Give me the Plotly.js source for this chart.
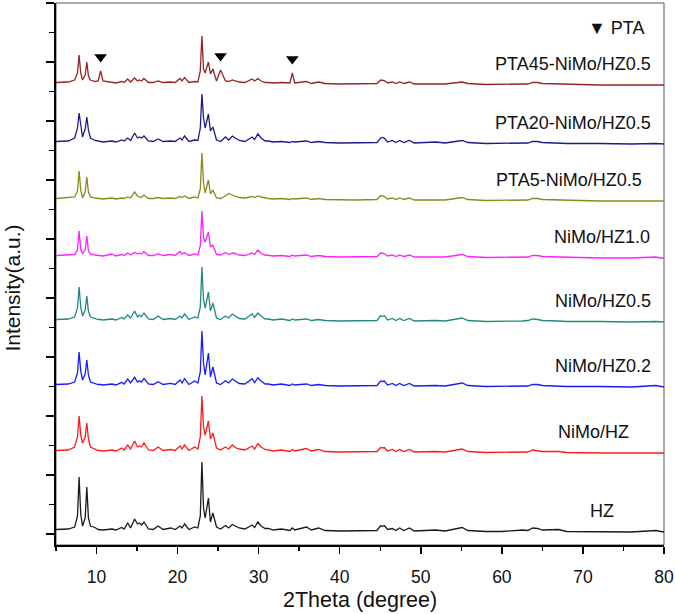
<!DOCTYPE html>
<html>
<head>
<meta charset="utf-8">
<script src="https://cdn.plot.ly/plotly-3.0.1.min.js"></script>
<style>html,body{margin:0;padding:0;background:#fff;}#chart{width:675px;height:614px;}</style>
</head>
<body>
<div id="chart"></div>
<script>
// 2Theta positions (degree) of read points, shared by all patterns
const twoTheta = [
  5, 6.5, 7.3, 7.65, 7.85, 8.05, 8.27, 8.6, 8.8, 9.0,
  9.25, 9.8, 10.2, 10.5, 10.8, 11.9, 12.4, 13.1, 13.4, 13.85,
  14.2, 14.7, 15.05, 15.3, 15.55, 15.85, 16.4, 17.0, 17.6, 18.2,
  19.15, 19.7, 20.3, 20.55, 20.85, 21.4, 22.1, 22.5, 22.8, 23.0,
  23.2, 23.4, 23.8, 24.05, 24.35, 24.8, 25.3, 25.9, 26.3, 26.75,
  27.1, 27.6, 28.3, 29.2, 29.5, 29.9, 30.3, 30.8, 31.2, 31.8,
  32.8, 33.85, 34.15, 34.45, 35.9, 36.5, 37.4, 38.2, 40, 42,
  44.6, 45.05, 45.25, 45.5, 45.9, 46.5, 46.9, 47.4, 47.9, 48.6,
  49.2, 51.8, 53, 55.1, 55.8, 58, 60, 62.5, 63.2, 63.8,
  64.4, 65, 67, 68, 72, 76, 79, 79.5, 80
];

const sampleNames = ["HZ", "NiMo/HZ", "NiMo/HZ0.2", "NiMo/HZ0.5", "NiMo/HZ1.0",
  "PTA5-NiMo/HZ0.5", "PTA20-NiMo/HZ0.5", "PTA45-NiMo/HZ0.5"];

// intensity (a.u.) of each pattern above its own baseline
const intHZ = [
  0.5, 1, 3, 14, 53, 16, 4, 12, 43, 12,
  4, 2.5, 0.5, 0.5, 0, 1, 0, 2.5, 1, 7,
  2, 11, 6, 7, 5, 8, 1, 0.5, 4, 0.5,
  2, 0.5, 4, 2, 6, 0.5, 3, 2, 14, 68,
  22, 12, 32, 8, 17, 3, 1, 4.5, 2, 5.5,
  4, 2, 1, 5, 2.5, 8, 4, 1.5, 1.5, 0,
  1, -0.5, 2, 0, 3, 0, 2, -0.5, -1, -1,
  -0.5, 4.5, 3.5, 4.5, 0.5, 1.5, -0.5, 2, -0.5, 2,
  -1, 0, -1, 2.5, -0.5, -1.5, -1.5, 0, -0.5, 2,
  1.5, 0, 0.5, -1.5, -2, -2, -0.5, -1.5, -2
];
const intNiMoHZ = [
  0.5, 1, 4, 14, 35, 16, 8, 14, 28, 12,
  4, 2, 0.5, 0.5, 0, 1, 0, 3, 1, 6,
  2, 10, 4, 5, 4, 8, 1, 0.5, 4, 0.5,
  1.5, 0.5, 5, 2, 6, 0.5, 4, 2, 14, 55,
  24, 16, 30, 12, 18, 3, 1, 4, 2, 6,
  3.5, 2, 1, 5, 2, 7.5, 4, 1.5, 1, 0,
  1, -0.5, 1.5, 0, 2.5, 0, 1.5, -0.5, -1, -1,
  -0.5, 3.5, 3, 3.5, 0, 1.5, -0.5, 1.5, -0.5, 1.5,
  -1, -0.5, -1, 2, -0.5, -1.5, -1.5, -1, -1, 1,
  0.5, -0.5, -0.5, -1.5, -2, -2, -1.5, -2, -2
];
const intNiMoHZ02 = [
  0.5, 1, 3, 12, 33, 14, 5, 11, 25, 10,
  3, 1.5, 0.5, 0.5, 0, 1, 0, 2.7, 1, 6,
  2, 7.7, 3, 4.3, 3, 6.7, 1, 0.5, 3.3, 0.5,
  1.7, 0.5, 5, 2, 6.3, 0.5, 4, 2, 13, 54,
  22, 10, 32, 8, 18, 2, 0.5, 4.3, 2, 6,
  4, 1.5, 1, 6.3, 2.5, 7.3, 4, 1, 1, 0,
  1, -0.5, 1, 0, 1, -0.5, 0.5, -0.5, -1, -1,
  -0.5, 4, 3.5, 4, 0, 1.5, -0.5, 1.5, -0.5, 1.5,
  -1, -0.5, -1, 2, -0.5, -1.5, -1.5, -1, -1, 0.5,
  0.5, -0.5, -1, -1.5, -1.5, -2, -0.5, -1.5, -2
];
const intNiMoHZ05 = [
  0.5, 1, 3, 12, 33, 13, 4, 10, 24, 9,
  3, 1.5, 0.5, 0.5, 0, 1, 0, 2.5, 1, 5,
  2, 9, 3, 5, 3.5, 7, 1, 0.5, 4, 0.5,
  1.5, 0.5, 4, 2, 6, 0.5, 3, 2, 13, 53,
  20, 12, 28, 9, 17, 2, 0.5, 4, 2, 6,
  4, 1.5, 1, 6, 2.5, 7, 4, 1, 1, 0,
  1, -0.5, 1, 0, 1, -0.5, 0.5, -0.5, -1, -1,
  -0.5, 4.5, 3.5, 4.3, 0, 1.5, -0.5, 1.5, -0.5, 1.5,
  -1, -0.5, -1, 2, -0.5, -1.5, -1.5, -1, -0.5, 1,
  0.5, -0.5, -1, -1.5, -1.5, -2, -1.5, -1.5, -2
];
const intNiMoHZ10 = [
  0.5, 1, 1.5, 6, 25, 7, 2, 6, 20, 5,
  2, 1, 0.5, 0.5, 0, 2, 0, 1.5, 0.5, 3,
  1, 3.5, 2, 3, 2, 4.5, 0.5, 0.5, 2, 0.5,
  1.5, 0.5, 4.5, 2, 3.5, 0.5, 2, 1, 10, 45,
  18, 14, 24, 9, 11, 1.5, 1, 3.5, 1.5, 3,
  2.5, 1, 0.5, 3, 1.5, 6, 2.5, 1, 0.5, 0,
  0.5, -0.5, 1, 0, 1, -0.5, 0.5, -0.5, -1, -1,
  -0.5, 3, 2.5, 2.5, 0, 1, -0.5, 1, -0.5, 1,
  -1, -0.5, -1, 1.5, -0.5, -1.5, -1.5, -1, -1, 0.5,
  0.5, -0.5, -1, -1.5, -2, -2, -1, -2, -2
];
const intPTA5 = [
  0.5, 1, 2, 8, 28, 9, 1, 7, 22, 7,
  2, 1, 0.5, 0.5, 0, 1, 0, 1, 0.5, 2,
  1, 7, 3, 2, 1.5, 4, 0.5, 0.5, 1.5, 0.5,
  1, 0.5, 2.5, 1.5, 3, 0.5, 2, 1, 10, 46,
  16, 6, 19, 5, 9, 1, 0.5, 3, 5.5, 4,
  3, 1.5, 1, 2.5, 1.5, 3, 2, 1, 0.5, 0,
  0.5, -0.5, 0.5, 0, 1, -0.5, 0.5, -0.5, -1, -1,
  -0.5, 3.5, 3, 2.5, 0, 1, -0.5, 1, -0.5, 1,
  -1, -0.5, -1, 1.5, -0.5, -1.5, -1.5, -1, -1, 0.5,
  0.5, -0.5, -1, -1.5, -2, -2, -1.5, -2, -2
];
const intPTA20 = [
  0.5, 1, 4, 14, 29, 15, 5, 13, 25, 12,
  4, 1.5, 0.5, 0.5, 0, 1, 0, 2, 1, 4,
  1.5, 9, 4, 5, 4, 6, 1, 0.5, 3, 0.5,
  1, 0.5, 4, 2, 6, 0.5, 2, 1.5, 14, 48,
  24, 14, 28, 11, 15, 2, 0.5, 5, 2, 6,
  4, 1.5, 0.5, 5, 2.5, 8, 4, 1, 1, 0,
  0.5, -0.5, 0.5, 0, 1, -0.5, 0.5, -0.5, -1, -1,
  -0.5, 4, 4.5, 4, 0, 1.5, -0.5, 1.5, -0.5, 1.5,
  -1, 0, -1, 1.5, -0.5, -1.5, -1.5, -1, -1, 0.5,
  0.5, -0.5, -1, -1.5, -1.5, -2, -1.5, -2, -2
];
const intPTA45 = [
  0.5, 1, 3, 10, 28, 10, 3, 8, 21, 7,
  3, 1.5, 2, 12, 2, 1, 0, 1.5, 0.5, 4,
  1, 5, 2, 3, 2, 4.5, 0.5, 0.5, 2, 0.5,
  1, 0.5, 4.5, 2, 5.5, 0.5, 1.5, 1, 12, 47,
  14, 10, 21, 9, 14, 2, 13, 2, 1.5, 3,
  2, 1, 0.5, 4, 2, 4.5, 2, 0.5, 0.5, 0,
  0.5, 0, 10, 0, 1.5, -0.5, 1, -0.5, -1, -1,
  -0.5, 3, 2.5, 2.5, 0, 1, -0.5, 1, -0.5, 1,
  -1, -0.5, -1, 1, -0.5, -1.5, -1.5, -1, -1, 0.5,
  0.5, -0.5, -1, -1.5, -2, -2, -1.5, -2, -2
];

// vertical stacking offsets of the patterns (a.u.)
const stackOffsets = [4, 83, 149, 214, 278, 335, 392, 451];
// 2Theta of the PTA reflections marked with ▼
const ptaPeaks = [10.5, 25.3, 34.15];

const seriesValues = [intHZ, intNiMoHZ, intNiMoHZ02, intNiMoHZ05, intNiMoHZ10, intPTA5, intPTA20, intPTA45];
const colors = ["#1a1a1a", "#ff1a1a", "#1a1aff", "#1f8a80", "#ff20ff", "#8a8a1c", "#1c1c8c", "#962424"];
const labelRight = [74.1, 75.9, 78.7, 78.7, 78.5, 77.5, 78.6, 78.6];
const labelGap = 19;
const markGap = 14;

const traces = seriesValues.map((vals, i) => ({
  type: "scatter", mode: "lines", name: sampleNames[i],
  x: twoTheta,
  y: vals.map(v => v + stackOffsets[i]),
  line: {color: colors[i], width: 1.3},
  hoverinfo: "skip"
}));

const ptaY = ptaPeaks.map(p => {
  const k = twoTheta.indexOf(p);
  return intPTA45[k] + stackOffsets[7] + markGap;
});
traces.push({
  type: "scatter", mode: "markers", x: ptaPeaks, y: ptaY,
  marker: {symbol: "triangle-down", size: 11, color: "#000"},
  hoverinfo: "skip"
});

const font = "Liberation Sans, Arial, Helvetica, sans-serif";
const annotations = sampleNames.map((n, i) => ({
  text: n, x: labelRight[i], y: stackOffsets[i] + labelGap,
  xref: "x", yref: "y", xanchor: "right", yanchor: "middle",
  showarrow: false, font: {size: 18, color: "#111", family: font}
}));
annotations.push({
  text: "▼ PTA", xref: "paper", yref: "paper", x: 0.972, y: 0.954,
  xanchor: "right", yanchor: "middle", showarrow: false,
  font: {size: 18, color: "#111", family: font}
});
annotations.push({
  text: "Intensity(a.u.)", xref: "paper", yref: "paper", x: -0.0715, y: 0.474,
  xanchor: "center", yanchor: "middle", textangle: -90, showarrow: false,
  font: {size: 21, color: "#111", family: font}
});
annotations.push({
  text: "2Theta (degree)", xref: "paper", yref: "paper", x: 0.5, y: -0.1015,
  xanchor: "center", yanchor: "middle", showarrow: false,
  font: {size: 21.5, color: "#111", family: font}
});

const layout = {
  width: 675, height: 614,
  margin: {l: 56, r: 11, t: 3, b: 69, pad: 0},
  paper_bgcolor: "#fff", plot_bgcolor: "#fff",
  showlegend: false,
  font: {family: font, color: "#111"},
  xaxis: {
    range: [5, 80], tick0: 0, dtick: 10,
    ticks: "outside", ticklen: 7, tickwidth: 1.5, tickcolor: "#000",
    ticklabelstandoff: 8,
    showline: true, linewidth: 2, linecolor: "#000",
    showgrid: false, zeroline: false,
    tickfont: {size: 17.5, color: "#111", family: font},
    minor: {tick0: 0, dtick: 5, ticks: "outside", ticklen: 4, tickwidth: 1.5, tickcolor: "#000", showgrid: false}
  },
  yaxis: {
    range: [-11, 531], tick0: 0, dtick: 59,
    ticks: "outside", ticklen: 8, tickwidth: 1.5, tickcolor: "#000",
    showticklabels: false,
    showline: true, linewidth: 2, linecolor: "#000",
    showgrid: false, zeroline: false,
    minor: {tick0: 0, dtick: 29.5, ticks: "outside", ticklen: 5, tickwidth: 1.5, tickcolor: "#000", showgrid: false}
  },
  shapes: [{
    type: "rect", xref: "paper", yref: "paper", x0: 0, x1: 1, y0: 0, y1: 1,
    line: {color: "#555", width: 1}, layer: "below"
  }],
  annotations: annotations
};

Plotly.newPlot("chart", traces, layout, {staticPlot: true, displayModeBar: false});
</script>
</body>
</html>
